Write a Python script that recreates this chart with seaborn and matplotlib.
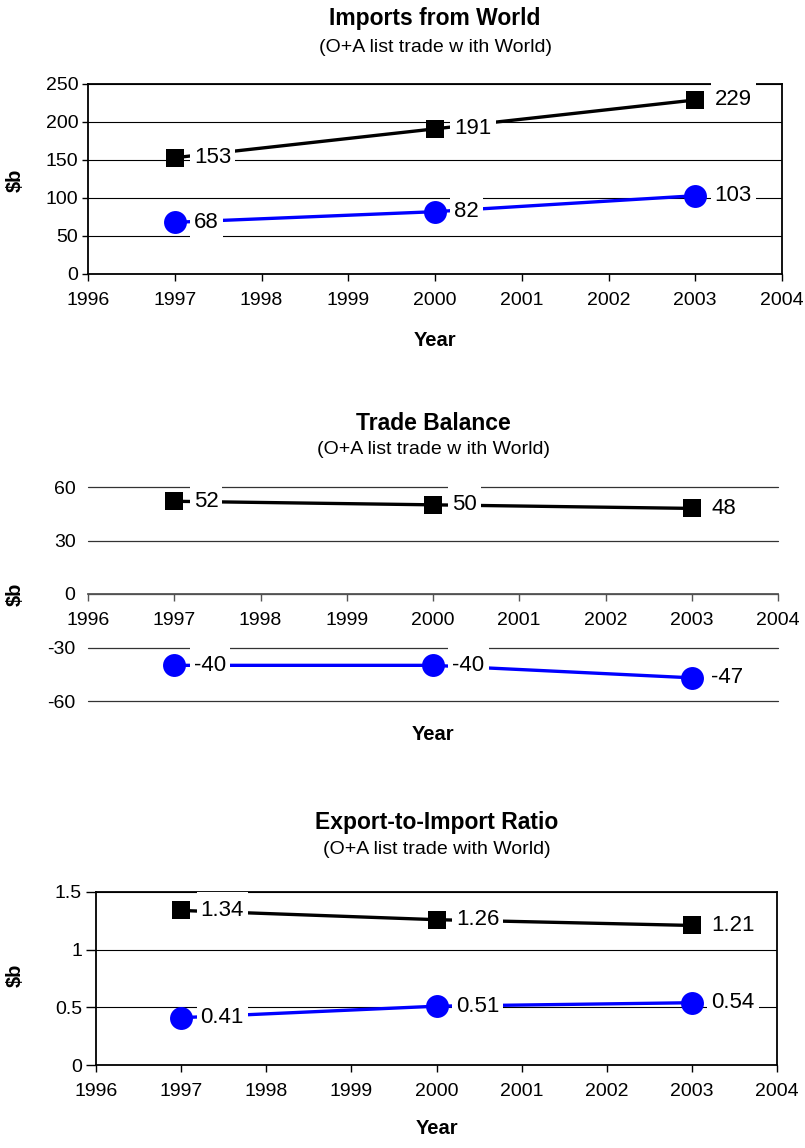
import matplotlib
matplotlib.use("Agg")
import matplotlib.pyplot as plt
from matplotlib.path import Path
import seaborn as sns
import pandas as pd

# ---- data -------------------------------------------------------------
years = [1997, 2000, 2003]

imports_upper = [153, 191, 229]
imports_lower = [68, 82, 103]

balance_upper = [52, 50, 48]
balance_lower = [-40, -40, -47]

ratio_upper = [1.34, 1.26, 1.21]
ratio_lower = [0.41, 0.51, 0.54]

x_ticks = [1996, 1997, 1998, 1999, 2000, 2001, 2002, 2003, 2004]
imports_ticks = [0, 50, 100, 150, 200, 250]
balance_ticks = [-60, -30, 0, 30, 60]
ratio_ticks = [0, 0.5, 1, 1.5]
ratio_tick_labels = ["0", "0.5", "1", "1.5"]

titles = ["Imports from World", "Trade Balance", "Export-to-Import Ratio"]
subtitles = ["(O+A list trade w ith World)", "(O+A list trade w ith World)",
             "(O+A list trade with World)"]

# ---- style ------------------------------------------------------------
sns.set_style("white")
plt.rcParams["font.family"] = ["Liberation Sans", "DejaVu Sans"]
plt.rcParams["text.color"] = "black"
plt.rcParams["xtick.color"] = "black"
plt.rcParams["ytick.color"] = "black"

W, H = 805, 1148
fig = plt.figure(figsize=(W / 100, H / 100), dpi=100)

TICK_FS = 14
LABEL_FS = 16


def label_box(x0, y0, width, height, mutation_size):
    """White data-label box: narrow side padding, taller top/bottom padding."""
    px = 0.18 * mutation_size
    py = 0.38 * mutation_size
    return Path([(x0 - px, y0 - py), (x0 + width + px, y0 - py),
                 (x0 + width + px, y0 + height + py), (x0 - px, y0 + height + py),
                 (x0 - px, y0 - py)], closed=True)


def axes_px(left, right, top, bottom):
    return fig.add_axes([left / W, 1 - bottom / H, (right - left) / W, (bottom - top) / H])


def draw_series(ax, upper, lower, fmt):
    df_u = pd.DataFrame({"Year": years, "Value": upper})
    df_l = pd.DataFrame({"Year": years, "Value": lower})
    sns.lineplot(data=df_u, x="Year", y="Value", ax=ax, color="black", lw=2.4,
                 marker="s", markersize=13.5, markeredgewidth=0, legend=False,
                 zorder=3, clip_on=False)
    sns.lineplot(data=df_l, x="Year", y="Value", ax=ax, color="#0000FF", lw=2.4,
                 marker="o", markersize=16.5, markeredgewidth=0, legend=False,
                 zorder=3, clip_on=False)
    for series in (upper, lower):
        for x, v in zip(years, series):
            ax.annotate(fmt(v), (x, v), xytext=(14, 0), textcoords="offset points",
                        ha="left", va="center", fontsize=LABEL_FS, color="black",
                        zorder=5, annotation_clip=False,
                        bbox=dict(boxstyle=label_box, fc="white", ec="none"))


def common_x(ax):
    ax.set_xlim(1996, 2004)
    ax.set_xticks(x_ticks)
    ax.set_xticklabels([str(t) for t in x_ticks])
    ax.tick_params(axis="x", direction="out", length=5, width=1, pad=8,
                   labelsize=TICK_FS, bottom=True)
    ax.set_xlabel("")
    ax.set_ylabel("")


def heading(ax, i, title_y, sub_y, year_y, ylab_y):
    cx = (ax.get_position().x0 + ax.get_position().x1) / 2
    fig.text(cx, 1 - title_y / H, titles[i], ha="center", va="center",
             fontsize=16.5, fontweight="bold")
    fig.text(cx, 1 - sub_y / H, subtitles[i], ha="center", va="center", fontsize=14)
    fig.text(cx, 1 - year_y / H, "Year", ha="center", va="center",
             fontsize=14.5, fontweight="bold")
    fig.text(15 / W, 1 - ylab_y / H, "$b", ha="center", va="center",
             fontsize=14.5, fontweight="bold", rotation=90)


def boxed(ax):
    ax.yaxis.grid(True, color="black", lw=0.8)
    ax.set_axisbelow(True)
    for s in ax.spines.values():
        s.set_color("black")
        s.set_linewidth(1.3)


# ---- panel 1: imports ---------------------------------------------------
ax1 = axes_px(88, 782, 84, 274)
draw_series(ax1, imports_upper, imports_lower, lambda v: f"{v}")
common_x(ax1)
ax1.set_ylim(0, 250)
ax1.set_yticks(imports_ticks)
ax1.set_yticklabels([str(t) for t in imports_ticks])
ax1.tick_params(axis="y", direction="out", length=4, width=1, pad=3,
                labelsize=TICK_FS, left=True)
boxed(ax1)
heading(ax1, 0, 18, 47, 341, 180)

# ---- panel 2: trade balance --------------------------------------------
ax2 = axes_px(88, 778, 487, 701)
draw_series(ax2, balance_upper, balance_lower, lambda v: f"{v}")
common_x(ax2)
ax2.set_ylim(-60, 60)
ax2.set_yticks(balance_ticks)
ax2.set_yticklabels([str(t) for t in balance_ticks])
ax2.tick_params(axis="y", length=0, pad=9, labelsize=TICK_FS)
ax2.yaxis.grid(True, color="#333333", lw=0.9)
ax2.set_axisbelow(True)
for line in ax2.get_ygridlines():
    line.set_clip_on(False)
for name in ("top", "right", "left"):
    ax2.spines[name].set_visible(False)
ax2.spines["bottom"].set_position(("data", 0))
ax2.spines["bottom"].set_color("#555555")
ax2.spines["bottom"].set_linewidth(1.3)
ax2.tick_params(axis="x", colors="#555555", labelcolor="black")
heading(ax2, 1, 423, 450, 735, 594)

# ---- panel 3: export-to-import ratio -----------------------------------
ax3 = axes_px(96, 777, 892, 1065)
draw_series(ax3, ratio_upper, ratio_lower, lambda v: f"{v:g}")
common_x(ax3)
ax3.set_ylim(0, 1.5)
ax3.set_yticks(ratio_ticks)
ax3.set_yticklabels(ratio_tick_labels)
ax3.tick_params(axis="y", direction="out", length=7, width=1, pad=3,
                labelsize=TICK_FS, left=True)
boxed(ax3)
heading(ax3, 2, 822, 850, 1128, 975)

fig.savefig("out.png", dpi=100, facecolor="white")
